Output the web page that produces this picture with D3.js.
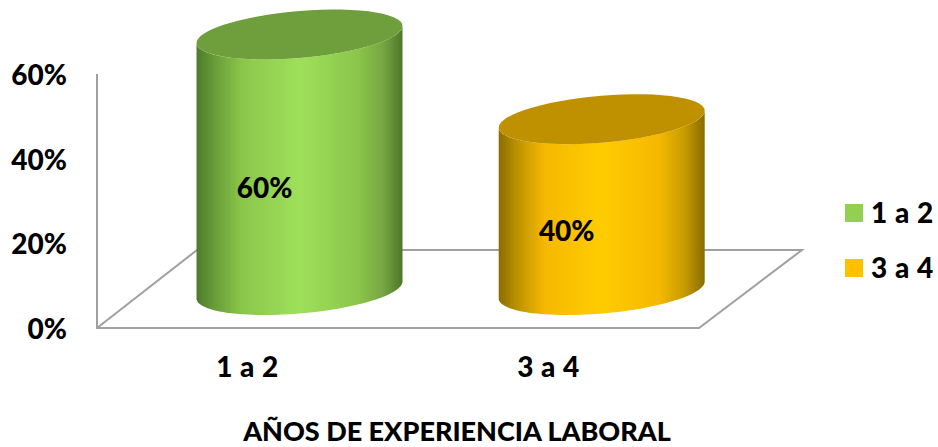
<!DOCTYPE html>
<html><head><meta charset="utf-8">
<script src="https://cdn.jsdelivr.net/npm/d3@7"></script>
<style>html,body{margin:0;background:#fff;overflow:hidden}svg{display:block}text{font-family:Lato,Carlito,sans-serif;font-weight:900;fill:#000}</style>
</head><body><svg id="c" width="938" height="447"></svg>
<script>
const categories = ["1 a 2", "3 a 4"];
const values = [60, 40];
const yTicks = [0, 20, 40, 60];
const axisTitle = "AÑOS DE EXPERIENCIA LABORAL";
const sideStops = [
  [["0%","#4d7a2b"],["8%","#659a38"],["22%","#8bc64b"],["50%","#9fe05a"],["78%","#8bc64b"],["90%","#77a842"],["100%","#4f7629"]],
  [["0%","#8a6c00"],["8%","#b88f00"],["22%","#f5b800"],["50%","#ffcc00"],["78%","#f5b800"],["90%","#c89c00"],["100%","#8a6c00"]]
];
const topColors = ["#6f9e3d", "#bf9000"];
const legendColors = ["#92d050", "#ffc000"];

const svg = d3.select("#c");
const left = 97, right = 699, y0 = 328, y60 = 74;
const depthX = 100, depthY = 78;
const rx = 103, ry = 23.5, shear = 8.5;

const x = d3.scaleBand().domain(categories).range([left, right]);
const y = d3.scaleLinear().domain([0, 60]).range([y0, y60]);

const defs = svg.append("defs");
sideStops.forEach((stops, i) => {
  const g = defs.append("linearGradient").attr("id", "g" + i).attr("x1", 0).attr("x2", 1).attr("y1", 0).attr("y2", 0);
  stops.forEach(s => g.append("stop").attr("offset", s[0]).attr("stop-color", s[1]));
});

// floor and wall
const grid = svg.append("g").attr("fill", "none").attr("stroke", "#a0a0a0").attr("stroke-width", 2);
grid.append("path").attr("d", d3.line()([[left, y(60)], [left, y(0)], [right, y(0)], [right + depthX + 3, y(0) - depthY], [left + depthX, y(0) - depthY], [left, y(0)]]));

// y axis labels
const yAxis = d3.axisLeft(y).tickValues(yTicks).tickSize(0).tickPadding(0).tickFormat(d => d + "%");
const gy = svg.append("g").attr("transform", "translate(67,1.5)").call(yAxis);
gy.select(".domain").remove();
gy.selectAll("text").style("font-size", "28px").attr("dy", "0.32em");

// x axis labels
const xAxis = d3.axisBottom(x).tickSize(0).tickPadding(0);
const gx = svg.append("g").attr("transform", "translate(0,357)").call(xAxis);
gx.select(".domain").remove();
gx.selectAll("text").style("font-size", "28px").attr("dy", "0.7em").attr("letter-spacing", "0.5px");

svg.append("text").attr("x", 457).attr("y", 441).attr("text-anchor", "middle").style("font-size", "27px").text(axisTitle);

// cylinders
const ell = (cx, cy, a, b) => {
  const pt = t => [cx + rx * Math.cos(t), cy + ry * Math.sin(t) - shear * Math.cos(t)];
  return d3.range(0, 61).map(i => pt(a + (b - a) * i / 60));
};
const lineGen = d3.line();
categories.forEach((c, i) => {
  const cx = x(c) + x.bandwidth() / 2 + depthX / 2 + 2 + i * 1.2;
  const base = y(0) - 38;
  const top = y(values[i]) - 39.5;
  const pts = ell(cx, top, Math.PI, 0).concat(ell(cx, base, 0, Math.PI));
  svg.append("path").attr("d", lineGen(pts) + "Z").attr("fill", `url(#g${i})`);
  svg.append("path").attr("d", lineGen(ell(cx, top, 0, 2 * Math.PI)) + "Z").attr("fill", topColors[i]);
  svg.append("text").attr("x", cx - 35).attr("y", (top + base) / 2 + 36).attr("text-anchor", "middle").style("font-size", "28px").text(values[i] + "%");
});

// legend
const ly = d3.scalePoint().domain(categories).range([213, 268]);
categories.forEach((c, i) => {
  svg.append("rect").attr("x", 845).attr("y", ly(c) - 9).attr("width", 18).attr("height", 18).attr("fill", legendColors[i]);
  svg.append("text").attr("x", 871).attr("y", ly(c) + 10).style("font-size", "28px").attr("letter-spacing", "0.5px").text(c);
});
</script></body></html>
